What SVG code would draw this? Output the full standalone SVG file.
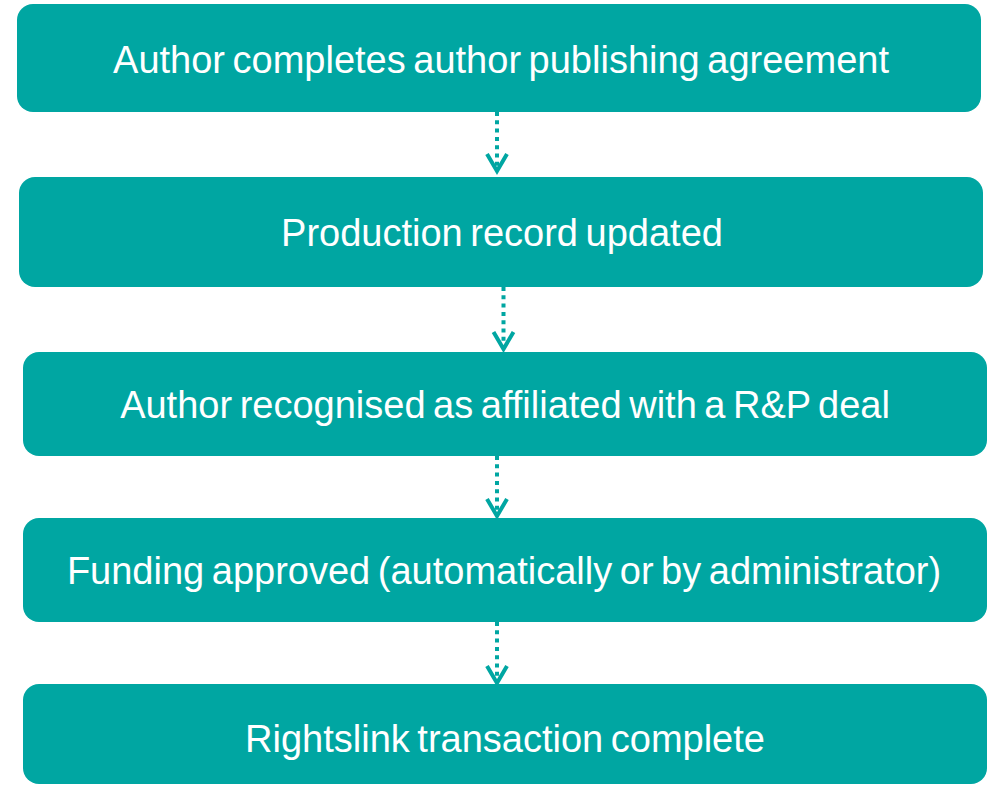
<svg xmlns="http://www.w3.org/2000/svg" width="992" height="785" viewBox="0 0 992 785">
<style>
.box{fill:#00A6A2}
.lbl{fill:#ffffff;font-family:"Liberation Sans",Arial,sans-serif;font-size:38px;text-anchor:middle;word-spacing:-3px}
.dot{stroke:#00A6A2;stroke-width:4;stroke-dasharray:4 4.3;fill:none}
.head{stroke:#00A6A2;stroke-width:4;fill:none;stroke-linejoin:miter;stroke-linecap:butt}
</style>
<rect width="992" height="785" fill="#ffffff"/>
<g id="connectors">
<line class="dot" x1="497" y1="112" x2="497" y2="170"/>
<polyline class="head" points="487,154 497,171 507,154"/>
<line class="dot" x1="503.5" y1="287" x2="503.5" y2="348"/>
<polyline class="head" points="493.5,332 503.5,349 513.5,332"/>
<line class="dot" x1="497" y1="456" x2="497" y2="515"/>
<polyline class="head" points="487,499 497,516 507,499"/>
<line class="dot" x1="497" y1="622" x2="497" y2="682"/>
<polyline class="head" points="487,666 497,683 507,666"/>
</g>
<g id="node1">
<rect class="box" x="17" y="4" width="964" height="108" rx="16"/>
<text class="lbl" x="501" y="73">Author completes author publishing agreement</text>
</g>
<g id="node2">
<rect class="box" x="19" y="177" width="964" height="110" rx="16"/>
<text class="lbl" x="502" y="246">Production record updated</text>
</g>
<g id="node3">
<rect class="box" x="23" y="352" width="964" height="104" rx="16"/>
<text class="lbl" x="505" y="418">Author recognised as affiliated with a  R&amp;P deal</text>
</g>
<g id="node4">
<rect class="box" x="23" y="518" width="964" height="104" rx="16"/>
<text class="lbl" x="504" y="584">Funding approved (automatically or by administrator)</text>
</g>
<g id="node5">
<rect class="box" x="23" y="684" width="964" height="100" rx="16"/>
<text class="lbl" x="505" y="752">Rightslink transaction complete</text>
</g>
</svg>
